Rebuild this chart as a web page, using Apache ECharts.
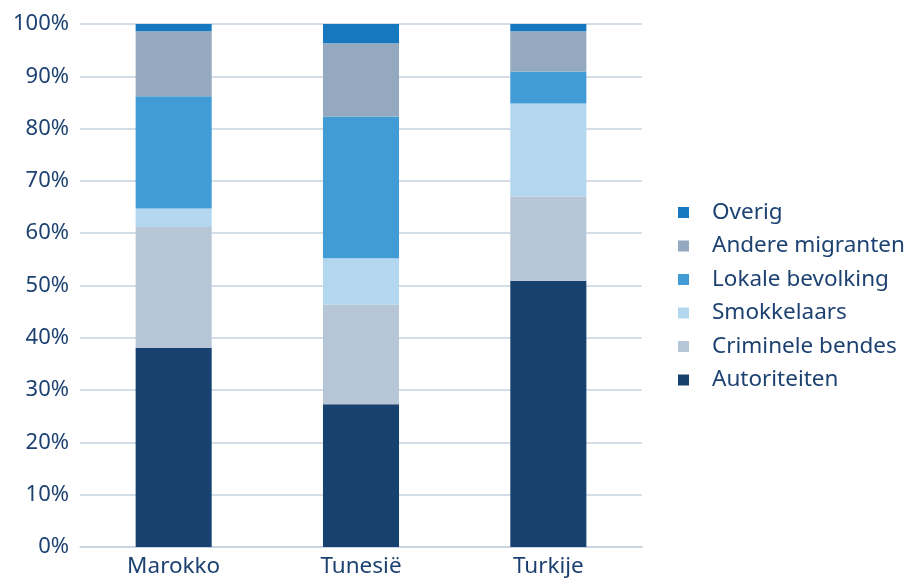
<!DOCTYPE html>
<html><head><meta charset="utf-8">
<script src="https://cdn.jsdelivr.net/npm/echarts@6/dist/echarts.min.js"></script>
<style>html,body{margin:0;padding:0;background:#fff}#c{width:910px;height:581px}</style>
</head><body><div id="c"></div>
<script>
const categories = ['Marokko', 'Tunesië', 'Turkije'];
const autoriteiten = [38.1, 27.3, 50.9];
const criminele = [23.1, 19.0, 16.1];
const smokkelaars = [3.5, 8.9, 17.8];
const lokale = [21.5, 27.1, 6.1];
const andere = [12.4, 14.0, 7.7];
const overig = [1.4, 3.7, 1.4];
const yTicks = [0, 10, 20, 30, 40, 50, 60, 70, 80, 90, 100];

const textColor = '#1d4272';
const font = 'Noto Sans';
const seriesDefs = [
  ['Autoriteiten', autoriteiten, '#17416f'],
  ['Criminele bendes', criminele, '#b7c6d6'],
  ['Smokkelaars', smokkelaars, '#b3d7ef'],
  ['Lokale bevolking', lokale, '#419bd5'],
  ['Andere migranten', andere, '#94a9c0'],
  ['Overig', overig, '#1679c0']
];
const chart = echarts.init(document.getElementById('c'));
chart.setOption({
  animation: false,
  grid: {left: 80, right: 268, top: 24, bottom: 34},
  legend: {
    orient: 'vertical', left: 673, top: 196, itemWidth: 11, itemHeight: 11, itemGap: 10.5,
    icon: 'rect',
    data: ['Overig', 'Andere migranten', 'Lokale bevolking', 'Smokkelaars', 'Criminele bendes', 'Autoriteiten'],
    textStyle: {color: textColor, fontFamily: font, fontSize: 22.5, padding: [0, 0, 0, 18]}
  },
  xAxis: {
    type: 'category', data: categories,
    axisLine: {lineStyle: {color: '#c5d3e0', width: 1.5}},
    axisTick: {show: false},
    axisLabel: {color: textColor, fontFamily: font, fontSize: 22.5, margin: 8}
  },
  yAxis: {
    type: 'value', min: 0, max: 100, interval: 10,
    axisLine: {show: false}, axisTick: {show: false},
    splitLine: {lineStyle: {color: '#c5d3e0', width: 1.5}},
    axisLabel: {color: textColor, fontFamily: font, fontSize: 22, margin: 11,
      formatter: v => yTicks.includes(v) ? v + '%' : ''}
  },
  series: seriesDefs.map(([name, data, color]) => ({
    name, type: 'bar', stack: 'total', data, barWidth: '40.6%',
    itemStyle: {color}
  }))
});
</script></body></html>
